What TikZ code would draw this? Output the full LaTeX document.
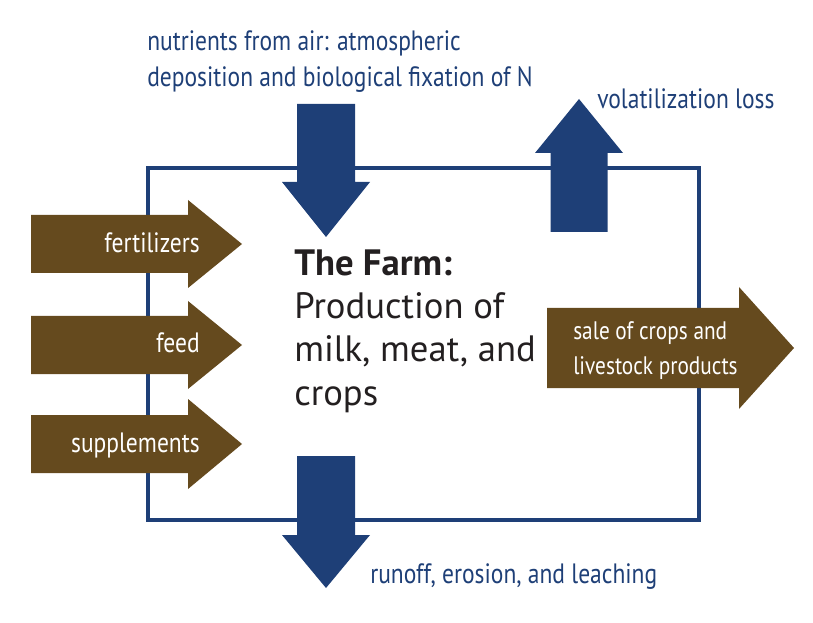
\documentclass[tikz,border=0pt]{standalone}
\usepackage{fontspec}
\setmainfont{PT Sans}[FakeStretch=0.84]
\newfontfamily\farmfont{PT Sans}
\usetikzlibrary{positioning}

\definecolor{farmblue}{HTML}{1E3F77}
\definecolor{farmbrown}{HTML}{654A1E}
\definecolor{farmink}{HTML}{231F20}

% horizontal fat arrow: x0, xhead, xtip, y centre, shaft half, head half
\newcommand{\rightfat}[6]{%
  \fill[farmbrown] (#1,#4-#5) -- (#2,#4-#5) -- (#2,#4-#6) -- (#3,#4)
    -- (#2,#4+#6) -- (#2,#4+#5) -- (#1,#4+#5) -- cycle;}
% vertical fat arrow: x centre, y0, yhead, ytip, shaft half, head half
\newcommand{\vertfat}[6]{%
  \fill[farmblue] (#1-#5,#2) -- (#1-#5,#3) -- (#1-#6,#3) -- (#1,#4)
    -- (#1+#6,#3) -- (#1+#5,#3) -- (#1+#5,#2) -- cycle;}

\begin{document}
\begin{tikzpicture}[x=0.75pt,y=-0.75pt,
  flowlabel/.style={text=farmblue,font=\fontsize{21}{27}\selectfont,inner sep=0pt,align=left},
  arrowlabel/.style={text=white,font=\fontsize{21}{26}\selectfont,inner sep=0pt,align=left},
  farmtext/.style={text=farmink,font=\farmfont\fontsize{27.5}{32.3}\selectfont,inner sep=0pt,align=left}]
  \useasboundingbox (0,0) rectangle (813,623);

  % the farm
  \draw[farmblue,line width=3pt] (148,168) rectangle (699,520);

  % inputs
  \rightfat{31}{188}{242}{244}{29}{44}
  \rightfat{31}{188}{242}{345}{29}{44}
  \rightfat{31}{188}{242}{444}{29}{45}
  \node[arrowlabel,anchor=base east] (fert) at (200,253) {fertilizers};
  \node[arrowlabel,anchor=base east] (feed) at (200,352) {feed};
  \node[arrowlabel,anchor=base east] (supp) at (200,452) {supplements};

  % air in, losses out
  \vertfat{326}{104}{182}{237}{29}{44}
  \vertfat{579}{232}{153}{99}{28.5}{44}
  \vertfat{326}{456}{535}{588}{29}{44}
  \node[flowlabel,anchor=base west] (air) at (147,87)
    {nutrients from air: atmospheric\\deposition and biological fixation of N};
  \node[flowlabel,anchor=base west] (vol) at (597,109) {volatilization loss};
  \node[flowlabel,anchor=base west] (runoff) at (370,583) {runoff, erosion, and leaching};

  % sales
  \rightfat{547}{739}{794}{348}{40}{61}
  \node[arrowlabel,anchor=base west,font=\fontsize{19}{26}\selectfont] (sale) at (573,374)
    {sale of crops and\\livestock products};

  \node[farmtext,anchor=base west] (farm) at (294,405)
    {\textbf{The Farm:}\\Production of\\milk, meat, and\\crops};
\end{tikzpicture}
\end{document}
